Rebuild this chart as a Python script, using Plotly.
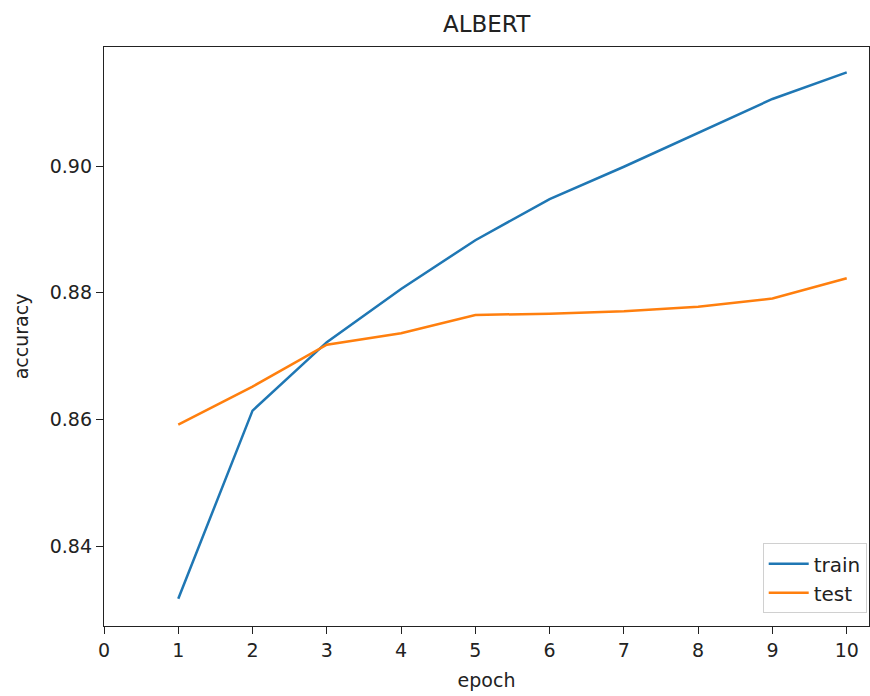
import plotly.graph_objects as go

epochs = [1, 2, 3, 4, 5, 6, 7, 8, 9, 10]
train_acc = [0.8317, 0.8614, 0.8722, 0.8806, 0.8883, 0.8948, 0.8999, 0.9052, 0.9106, 0.9148]
test_acc = [0.8592, 0.8652, 0.8718, 0.8736, 0.8765, 0.8767, 0.8771, 0.8778, 0.8791, 0.8823]
x_ticks = [0, 1, 2, 3, 4, 5, 6, 7, 8, 9, 10]
y_ticks = [0.84, 0.86, 0.88, 0.90]

fig = go.Figure()
fig.add_trace(go.Scatter(x=epochs, y=train_acc, mode="lines", name="train",
                         line=dict(color="#1f77b4", width=2.5)))
fig.add_trace(go.Scatter(x=epochs, y=test_acc, mode="lines", name="test",
                         line=dict(color="#ff7f0e", width=2.5)))

FONT = "DejaVu Sans"
axis_common = dict(showgrid=False, zeroline=False, showline=True, linecolor="#222",
                   linewidth=1.3, mirror=True, ticks="outside", ticklen=7,
                   tickcolor="#222", tickwidth=1.3,
                   tickfont=dict(family=FONT, size=19, color="#222"))

fig.update_layout(
    width=870, height=696,
    paper_bgcolor="white", plot_bgcolor="white",
    margin=dict(l=104, r=1, t=47, b=70),
    title=dict(text="ALBERT", x=0.5593, xanchor="center", y=0.965, yanchor="middle",
               font=dict(family=FONT, size=23, color="#222")),
    xaxis=dict(range=[0, 10.3], tickvals=x_ticks,
               title=dict(text="epoch", standoff=13,
                          font=dict(family=FONT, size=19, color="#222")),
               **axis_common),
    yaxis=dict(range=[0.8274, 0.9188], tickvals=y_ticks, tickformat=".2f",
               title=dict(text="accuracy", standoff=16,
                          font=dict(family=FONT, size=19, color="#222")),
               **axis_common),
    legend=dict(x=0.997, y=0.022, xanchor="right", yanchor="bottom",
                bordercolor="#d0d0d0", borderwidth=1, bgcolor="white",
                font=dict(family=FONT, size=20, color="#222"),
                itemwidth=40, tracegroupgap=4),
    showlegend=True,
)

fig.write_html("out.html")
